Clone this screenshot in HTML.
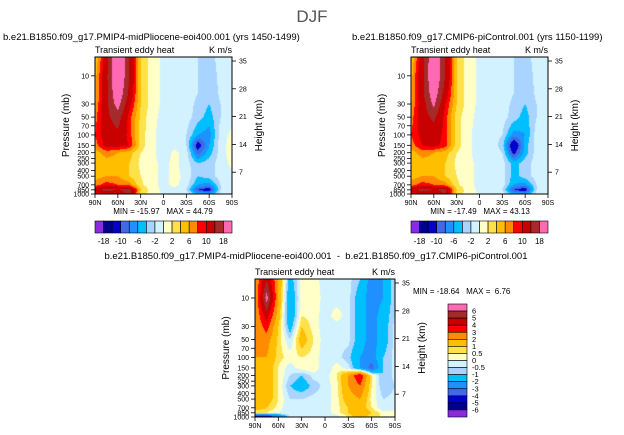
<!DOCTYPE html>
<html><head><meta charset="utf-8"><style>
body{margin:0;background:#fff;width:624px;height:435px;overflow:hidden;position:relative;font-family:"Liberation Sans",sans-serif}
canvas{position:absolute}
svg{position:absolute;left:0;top:0}
text{white-space:pre}
</style></head><body>
<canvas id="c1" width="137" height="137" style="left:95px;top:57px"></canvas>
<canvas id="c2" width="137" height="137" style="left:411px;top:57px"></canvas>
<canvas id="c3" width="140" height="138" style="left:255px;top:279px"></canvas>
<svg id="s" width="624" height="435"></svg>
<script>
const lats=[90,75,60,45,30,15,0,-15,-30,-45,-60,-75,-90];
const levels=[5,10,20,30,50,100,150,200,300,500,700,850,1000];
const plio=[
[4,12,24,14,4,1,-0.5,-0.5,-1,-2,-3,-1,-0.5],
[5,13,24,14,4,1,-0.5,-0.5,-1,-2,-4,-1,-0.5],
[5,13,22,13,4,1,-0.5,-0.5,-1,-2,-4,-1.5,-0.5],
[6,13,20,11,4,1,-0.5,-0.5,-1,-2.5,-4,-2,-0.5],
[7,13,16,9,3.5,0.5,-0.5,-0.5,-1,-3,-5,-2,-0.5],
[8,12,13,9,3,0.5,-1,-1,-2,-6,-7,-1,0.5],
[7,11,11,10,3,0.5,-1,-0.5,-2,-12,-6,-1,1],
[5,7,6,5,2,0.5,-1,0.5,-1,-9,-5,-1,1],
[4,5,5,4,1.5,0.5,-0.5,0.5,-1,-4,-3,-1,0.5],
[5,6,6,4,2,0.5,-0.5,0.5,-0.5,-4,-3,-1,-0.5],
[7,9,8,7,2.5,0.5,-0.5,0.5,-1,-6,-7,-2,-0.5],
[12,16,14,16,4,1,-0.5,-0.5,-2,-10,-12,-2,-0.5],
[8,10,10,16,3,1,-0.5,-0.5,-1,-5,-6,-1,-0.5]];
const piCtl=[
[4,12,23,14,4,1,-0.5,-0.5,-1,-2,-3,-1,-0.5],
[5,13,23,14,4,1,-0.5,-0.5,-1,-2,-4,-1,-0.5],
[5,13,21,12,4,1,-0.5,-0.5,-1,-2,-4,-1.5,-0.5],
[6,12,19,10,4,1,-0.5,-0.5,-1,-2.5,-4,-2,-0.5],
[7,12,15,9,3,0.5,-0.5,-0.5,-1,-3,-5,-2,-0.5],
[8,11,12,9,3,0.5,-1,-1,-2,-7,-6,-1,-0.5],
[7,10,11,9,3,0.5,-1,-0.5,-3,-14,-5,-1,-0.5],
[5,7,6,5,2,0.5,-1,-0.5,-2,-11,-5,-1,-0.5],
[4,5,5,4,1.5,0.5,-0.5,-0.5,-1,-5,-3,-1,-0.5],
[5,6,6,4,2,0.5,-0.5,-0.5,-1,-5,-3,-1,-0.5],
[7,9,8,7,2.5,0.5,-0.5,-0.5,-1,-6,-7,-2,-0.5],
[12,16,14,15,4,1,-0.5,-0.5,-2,-10,-12,-2,-0.5],
[8,10,10,15,3,1,-0.5,-0.5,-1,-5,-6,-1,-0.5]];
const diff=[
[2,5,2,-1.5,0.3,0.3,-0.3,-0.3,-0.3,-1,-2.5,-2,-0.5],
[2,6.5,2,-2,0.3,0.5,-0.3,-0.3,-0.3,-1.5,-2.5,-2,-0.5],
[2,4.5,1.5,-2,0.5,0.3,-0.3,0.3,-0.3,-1.5,-2.5,-1.5,-0.5],
[2,3.5,1,-1.5,1,0.3,-0.3,-0.3,-0.3,-1.5,-2.5,-1.5,-0.3],
[2,2.5,0.8,-0.5,1.5,0.5,-0.3,-0.3,-0.3,-1.5,-2.5,-1.5,-0.3],
[2,2,0.7,0.3,0.5,0.3,-0.3,-0.3,-0.8,-2,-2.5,-1,-0.3],
[1.5,1.5,0.5,-0.3,0.3,0.5,-0.5,0.3,-0.3,-2,-3.5,-1,-0.3],
[1.5,1.5,0.5,-0.5,-1,-0.3,-0.3,0.5,2,4,0.5,-1,-0.3],
[1.5,1.5,0.5,-1,-1.5,-0.8,-0.3,0.3,2,3,0.5,-1,-0.5],
[2,1.5,0.5,-0.5,-0.5,-0.3,-0.3,0.3,1.5,2,0.3,-0.5,-0.3],
[1.5,1,0.3,-0.5,-0.5,-0.3,-0.3,0.3,1,1.5,0.5,-0.5,-0.3],
[0.5,0.5,0,-0.3,-0.3,-0.3,-0.3,0.3,1,2,1,0.3,0.3],
[-6,-6,-3,-0.3,-0.3,-0.3,-0.3,-0.3,0.5,1.5,0.5,0.5,0.3]];
const bndTop=[-18,-14,-10,-8,-6,-4,-2,0,2,4,6,8,10,14,18];
const bndTopLabels=["-18","-10","-6","-2","2","6","10","18"];
const bndDiff=[-6,-5,-4,-3,-2,-1,-0.5,0,0.5,1,2,3,4,5,6];
const bndDiffLabels=["-6","-5","-4","-3","-2","-1","-0.5","0","0.5","1","2","3","4","5","6"];
const colors=["#8a2be2","#00008b","#0000cd","#4169e1","#1e90ff","#00bfff","#a8d4ff","#d2f2ff","#ffffc8","#ffe14a","#ffbe00","#ff8c00","#ff0000","#c80000","#a52a2a","#ff69b4"];
const latLabels=["90N","60N","30N","0","30S","60S","90S"];
const pTicks=[10,30,50,70,100,150,200,250,300,400,500,700,850,1000];
const hTicks=[35,28,21,14,7];
const P_TOP=4.8;

function hex(c){return [parseInt(c.substr(1,2),16),parseInt(c.substr(3,2),16),parseInt(c.substr(5,2),16)];}
function cIdx(v,b){let i=0;while(i<b.length&&v>=b[i])i++;return i;}
const lp=levels.map(p=>Math.log10(p));
function sample(grid,lat,p){
  let fx=(90-lat)/15;let i=Math.min(Math.floor(fx),lats.length-2);let tx=fx-i;
  let l=Math.log10(Math.max(p,levels[0]));let j=0;while(j<lp.length-2&&l>lp[j+1])j++;
  let ty=(l-lp[j])/(lp[j+1]-lp[j]);ty=Math.max(0,Math.min(1,ty));
  let a=grid[j][i]*(1-tx)+grid[j][i+1]*tx,b=grid[j+1][i]*(1-tx)+grid[j+1][i+1]*tx;
  return a*(1-ty)+b*ty;
}
function draw(id,grid,bnd){
  const c=document.getElementById(id),ctx=c.getContext('2d'),W=c.width,H=c.height;
  const img=ctx.createImageData(W,H);const rgb=colors.map(hex);
  const lt=Math.log10(P_TOP),lb=3;
  for(let y=0;y<H;y++){const p=Math.pow(10,lt+(lb-lt)*(y+0.5)/H);
    for(let x=0;x<W;x++){const lat=90-180*(x+0.5)/W;const k=rgb[cIdx(sample(grid,lat,p),bnd)];
      const o=(y*W+x)*4;img.data[o]=k[0];img.data[o+1]=k[1];img.data[o+2]=k[2];img.data[o+3]=255;}}
  ctx.putImageData(img,0,0);
}
draw('c1',plio,bndTop);draw('c2',piCtl,bndTop);draw('c3',diff,bndDiff);

const S=document.getElementById('s');const NS='http://www.w3.org/2000/svg';
function el(t,a,txt){const e=document.createElementNS(NS,t);for(const k in a)e.setAttribute(k,a[k]);if(txt!==undefined)e.textContent=txt;S.appendChild(e);return e;}
function txt(x,y,s,size,anchor,name,extra){const e=el('text',Object.assign({x:x,y:y,'font-size':size,'text-anchor':anchor||'start',fill:'#000'},extra||{}),s);

return e;}

txt(312,22,'DJF',17,'middle','main-title',{fill:'#555'});

function panel(X,Y,W,H,title,tx,tanchor,prefix){
  if(title)txt(tx,40,title,9.5,tanchor,prefix+'-title');
  txt(X,Y-4,'Transient eddy heat',9,'start',prefix+'-variable-label');
  txt(X+W,Y-4,'K m/s',9,'end',prefix+'-units-label');
  const r=el('rect',{x:X,y:Y,width:W,height:H,fill:'none',stroke:'#000','stroke-width':1});
  
  
  const lt=Math.log10(P_TOP);
  pTicks.forEach(p=>{const y=Y+H*(Math.log10(p)-lt)/(3-lt);
    el('line',{x1:X-4,x2:X,y1:y,y2:y,stroke:'#000','stroke-width':0.8});
    txt(X-6,y+2.5,String(p),7,'end',prefix+'-pressure-tick');});
  latLabels.forEach((s,i)=>{const x=X+W*i/6;
    el('line',{x1:x,x2:x,y1:Y+H,y2:Y+H+4,stroke:'#000','stroke-width':0.8});
    txt(x,Y+H+11,s,7,'middle',prefix+'-lat-tick');});
  hTicks.forEach(h=>{const y=Y+4+(35-h)/7*27.8;
    el('line',{x1:X+W,x2:X+W+4,y1:y,y2:y,stroke:'#000','stroke-width':0.8});
    txt(X+W+7,y+2.5,String(h),7,'start',prefix+'-height-tick');});
  txt(0,0,'Pressure (mb)',10,'middle',prefix+'-y-axis-title',{transform:`translate(${X-26},${Y+H/2}) rotate(-90)`});
  txt(0,0,'Height (km)',10,'middle',prefix+'-right-axis-title',{transform:`translate(${X+W+30},${Y+H/2}) rotate(-90)`});
}
panel(95,57,137,137,'b.e21.B1850.f09_g17.PMIP4-midPliocene-eoi400.001 (yrs 1450-1499)',3,'start','plio');
panel(411,57,137,137,'b.e21.B1850.f09_g17.CMIP6-piControl.001 (yrs 1150-1199)',352,'start','pi');
panel(255,279,140,138,'',0,'start','diff');
txt(316,259,'b.e21.B1850.f09_g17.PMIP4-midPliocene-eoi400.001  -  b.e21.B1850.f09_g17.CMIP6-piControl.001',9.5,'middle','diff-title');
txt(163,214,'MIN = -15.97   MAX = 44.79',8,'middle','plio-minmax');
txt(480,214,'MIN = -17.49   MAX = 43.13',8,'middle','pi-minmax');
txt(413,294,'MIN = -18.64   MAX =  6.76',8,'start','diff-minmax');

function hbar(X,Y,W,H,prefix){
  const bw=W/16;
  colors.forEach((c,i)=>{const r=el('rect',{x:X+i*bw,y:Y,width:bw,height:H,fill:c,stroke:'#000','stroke-width':0.6});
    
    });
  bndTopLabels.forEach((s,k)=>{txt(X+bw*(2*k+1),Y+H+11,s,8,'middle',prefix+'-colorbar-label');});
}
hbar(95,221,137,12,'plio');hbar(411,221,137,12,'pi');
(function(){const X=448,Y=304,W=19,H=113,bh=H/16;
  colors.slice().reverse().forEach((c,i)=>{const r=el('rect',{x:X,y:Y+i*bh,width:W,height:bh,fill:c,stroke:'#000','stroke-width':0.6});
    
    });
  bndDiffLabels.slice().reverse().forEach((s,k)=>{txt(X+W+5,Y+bh*(k+1)+2.5,s,7.5,'start','diff-colorbar-label');});
})();
</script>
</body></html>
